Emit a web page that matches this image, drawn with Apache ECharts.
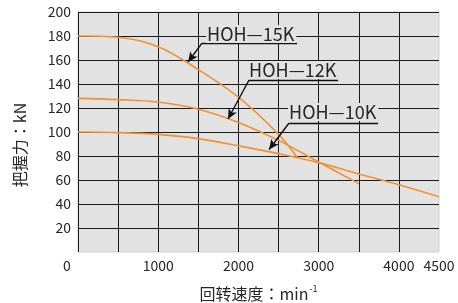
<!DOCTYPE html>
<html>
<head>
<meta charset="utf-8">
<script src="https://cdn.jsdelivr.net/npm/echarts@6/dist/echarts.min.js"></script>
<style>
  html, body { margin: 0; padding: 0; background: #fff; }
  #chart { width: 458px; height: 303px; }
</style>
</head>
<body>
<div id="chart"></div>
<script>
// speed in min-1, grip force in kN
const speed15K = [0, 500, 1000, 1500, 2000, 2500, 2730];
const grip15K = [180, 179, 171, 152, 129, 98, 79];

const speed12K = [0, 500, 1000, 1500, 2000, 2500, 3000, 3500];
const grip12K = [128, 127, 125, 119, 108, 93, 75, 57];

const speed10K = [0, 500, 1000, 1500, 2000, 2500, 3000, 3500, 4000, 4500];
const grip10K = [100, 99.5, 98, 94.5, 88.5, 82, 74.5, 65, 56, 46];

const modelNames = ["HOH—15K", "HOH—12K", "HOH—10K"];
const xTickLabels = [0, 1000, 2000, 3000, 4000, 4500];

// callout anchors, in data units
const calloutText = [[1596, 181.7], [2120, 151.7], [2618, 116.7]];
const calloutRuleStart = [[1546, 174], [2132, 143.3], [2631, 107.5]];
const calloutRuleEnd = [[2730, 174], [3242, 143.3], [3741, 107.5]];
const calloutArrowTip = [[1372, 158.3], [1870, 110.8], [2382, 85.4]];

const CURVE_COLOR = "#f29130";
const GRID_COLOR = "#1a1a1a";
const PLOT_BG = "#e2e2e2";
const TEXT_COLOR = "#262626";
const FONT = "'Noto Sans CJK JP', 'Liberation Sans', sans-serif";

function zip(xs, ys) {
  return xs.map((x, i) => [x, ys[i]]);
}

function calloutMarks(index) {
  const start = calloutRuleStart[index];
  return {
    markLine: {
      silent: true,
      animation: false,
      label: { show: false },
      lineStyle: { color: "#111", width: 1.4, type: "solid" },
      symbolSize: [7, 10],
      data: [
        [{ coord: start, symbol: "none" }, { coord: calloutRuleEnd[index], symbol: "none" }],
        [{ coord: start, symbol: "none" }, { coord: calloutArrowTip[index], symbol: "arrow" }]
      ]
    },
    markPoint: {
      silent: true,
      animation: false,
      symbol: "rect",
      symbolSize: 0,
      data: [{ coord: calloutText[index] }],
      label: {
        show: true,
        position: "right",
        distance: 0,
        formatter: modelNames[index],
        color: TEXT_COLOR,
        fontFamily: FONT,
        fontSize: 18,
        backgroundColor: PLOT_BG,
        padding: [0, 2, 0, 1]
      }
    }
  };
}

function curveSeries(name, xs, ys, index) {
  return Object.assign({
    name,
    type: "line",
    data: zip(xs, ys),
    smooth: 0.35,
    showSymbol: false,
    symbol: "none",
    silent: true,
    z: 3,
    lineStyle: { color: CURVE_COLOR, width: 1.6 }
  }, calloutMarks(index));
}

function chartOption() {
  return {
    animation: false,
    backgroundColor: "#fff",
    textStyle: { fontFamily: FONT, color: TEXT_COLOR },
    grid: {
      left: 78,
      top: 12,
      width: 361,
      height: 240,
      outerBoundsMode: "none",
      show: true,
      backgroundColor: PLOT_BG,
      borderColor: "#d0d0d0",
      borderWidth: 1
    },
    xAxis: {
      type: "value",
      min: 0,
      max: 4500,
      interval: 500,
      name: "{main|回转速度：min}{sup|-1}",
      nameLocation: "middle",
      nameGap: 32,
      nameTextStyle: {
        rich: {
          main: { fontFamily: FONT, fontSize: 16, color: TEXT_COLOR, lineHeight: 20 },
          sup: { fontFamily: FONT, fontSize: 9, color: TEXT_COLOR, verticalAlign: "top", lineHeight: 20, padding: [0, 0, 8, 1] }
        }
      },
      axisLine: { show: false },
      axisTick: { show: false },
      axisLabel: {
        margin: 7,
        fontSize: 14,
        color: TEXT_COLOR,
        fontFamily: FONT,
        formatter: (value) => {
          if (value === 0) return "{zero|0}";
          return xTickLabels.includes(value) ? String(value) : "";
        },
        rich: {
          zero: { fontSize: 14, color: TEXT_COLOR, fontFamily: FONT, padding: [0, 22, 0, 0] }
        }
      },
      splitLine: {
        show: true,
        showMinLine: true,
        showMaxLine: false,
        lineStyle: { color: GRID_COLOR, width: 1 }
      }
    },
    yAxis: {
      type: "value",
      min: 0,
      max: 200,
      interval: 20,
      name: "把握力：kN",
      nameLocation: "middle",
      nameRotate: 90,
      nameGap: 50,
      nameTextStyle: { fontSize: 16, color: TEXT_COLOR, fontFamily: FONT, padding: [0, 26, 0, 0] },
      axisLine: { show: false },
      axisTick: { show: false },
      axisLabel: {
        margin: 7,
        fontSize: 14,
        color: TEXT_COLOR,
        fontFamily: FONT,
        formatter: (value) => (value === 0 ? "" : String(value))
      },
      splitLine: {
        show: true,
        showMinLine: false,
        showMaxLine: true,
        lineStyle: { color: GRID_COLOR, width: 1 }
      }
    },
    series: [
      curveSeries(modelNames[0], speed15K, grip15K, 0),
      curveSeries(modelNames[1], speed12K, grip12K, 1),
      curveSeries(modelNames[2], speed10K, grip10K, 2)
    ]
  };
}

function init() {
  const host = document.getElementById("chart");
  const chart = echarts.init(host, null, { renderer: "canvas" });
  chart.setOption(chartOption());
}

init();
</script>
</body>
</html>
